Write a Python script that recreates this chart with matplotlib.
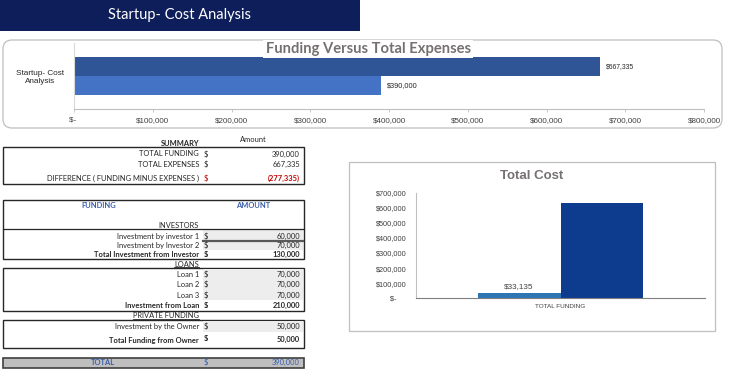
import matplotlib
matplotlib.use("Agg")
import matplotlib.pyplot as plt
from matplotlib.patches import Rectangle, FancyBboxPatch
from matplotlib.lines import Line2D
from matplotlib.transforms import Affine2D

# ---------------- data ----------------
page_title = "Startup- Cost Analysis"

top_chart_title = "Funding Versus Total Expenses"
top_category = "Startup- Cost\nAnalysis"
top_series = ["Total Expenses", "Total Funding"]
top_values = [667335, 390000]
top_ticks = [0, 100000, 200000, 300000, 400000, 500000, 600000, 700000, 800000]

summary_labels = ["TOTAL FUNDING", "TOTAL EXPENSES", "DIFFERENCE ( FUNDING MINUS EXPENSES )"]
summary_values = [390000, 667335, -277335]

investor_labels = ["Investment by investor 1", "Investment by Investor 2"]
investor_values = [60000, 70000]
investor_total_label = "Total Investment from Investor"
investor_total = 130000

loan_labels = ["Loan 1", "Loan 2", "Loan 3"]
loan_values = [70000, 70000, 70000]
loan_total_label = "Investment from Loan"
loan_total = 210000

owner_labels = ["Investment by the Owner"]
owner_values = [50000]
owner_total_label = "Total Funding from Owner"
owner_total = 50000

grand_total_label = "TOTAL"
grand_total = 390000

cost_title = "Total Cost"
cost_category = ["TOTAL FUNDING"]
cost_series_values = [33135, 634200]
cost_value_labels = ["$33,135", ""]
cost_ticks = [0, 100000, 200000, 300000, 400000, 500000, 600000, 700000]

# ---------------- helpers ----------------
W, H = 750, 377
fig = plt.figure(figsize=(W / 100, H / 100), dpi=100)
fig.patch.set_facecolor("white")
PX = Affine2D().scale(0.01, -0.01).translate(0, H / 100) + fig.dpi_scale_trans

TF = "Lato"          # table font (Calibri-like)
AF = "Liberation Sans"  # chart font (Arial-like)
DARK = "#262626"


def money(v):
    return "$-" if v == 0 else f"${v:,.0f}"


def acct(v):
    return f"{v:,.0f}" if v >= 0 else f"({-v:,.0f})"


def rect(x0, y0, x1, y1, **kw):
    r = Rectangle((x0, y0), x1 - x0, y1 - y0, transform=PX, **kw)
    fig.add_artist(r)
    return r


def hline(x0, x1, y, **kw):
    fig.add_artist(Line2D([x0, x1], [y, y], transform=PX, **kw))


def txt(x, y, s, **kw):
    kw.setdefault("va", "center")
    return fig.text(x, y, s, transform=PX, **kw)


def axes_px(x0, y0, x1, y1):
    return fig.add_axes([x0 / W, 1 - y1 / H, (x1 - x0) / W, (y1 - y0) / H])


# ---------------- banner ----------------
rect(0, 0, 360, 31, facecolor="#0E1E5B", edgecolor="none")
txt(180, 15.5, page_title, ha="center", color="white", fontsize=10.5, family=TF)

# ---------------- top chart ----------------
fig.add_artist(FancyBboxPatch((3, 40), 719, 88, boxstyle="round,pad=0,rounding_size=9",
                              transform=PX, facecolor="none", edgecolor="#BFBFBF", lw=0.9))
ax1 = axes_px(74, 43, 704, 109)
bar_h = 0.29
top_pos = [bar_h / 2, -bar_h / 2]
top_colors = ["#2F5597", "#4472C4"]
ax1.barh(top_pos, top_values, height=bar_h, color=top_colors)
for p, v, fs in zip(top_pos, top_values, [4.9, 5.3]):
    ax1.text(v + 8000, p, money(v), va="center", ha="left", fontsize=fs,
             family=AF, color="#262626")
ax1.set_xlim(top_ticks[0], top_ticks[-1])
ax1.set_ylim(-0.5, 0.5)
ax1.set_xticks(top_ticks)
ax1.set_xticklabels([money(t) if t else "$- " for t in top_ticks])
ax1.set_yticks([0])
ax1.set_yticklabels([top_category], multialignment="center")
ax1.tick_params(axis="x", labelsize=5.8, labelcolor="#404040", color="#BFBFBF",
                length=2.5, width=0.6, pad=3)
ax1.tick_params(axis="y", labelsize=5.9, labelcolor="#262626", length=0, pad=7)
for lab in ax1.get_xticklabels() + ax1.get_yticklabels():
    lab.set_family(AF)
for s in ["top", "right"]:
    ax1.spines[s].set_visible(False)
ax1.spines["left"].set_color("#D9D9D9")
ax1.spines["bottom"].set_color("#BFBFBF")
ax1.patch.set_alpha(0)
txt(368, 49, top_chart_title, ha="center", fontsize=10.6, fontweight="bold",
    color="#767171", family=TF,
    bbox=dict(facecolor="white", edgecolor="none", pad=1.5), zorder=5)

# ---------------- summary table ----------------
fs = 5.4
LX, DX, VX = 199, 204, 300
txt(LX, 144, "SUMMARY", ha="right", fontsize=fs, fontweight="bold", family=TF, color=DARK)
txt(253, 139.5, "Amount", ha="center", fontsize=fs, family=TF, color=DARK)
rect(3, 146.7, 303.5, 184, facecolor="none", edgecolor=DARK, lw=1.0)
for lbl, v, y in zip(summary_labels, summary_values, [154, 164.5, 178]):
    neg = v < 0
    col = "#C00000" if neg else DARK
    txt(LX, y, lbl, ha="right", fontsize=fs, family=TF, color=DARK)
    txt(DX, y, "$", ha="left", fontsize=fs, family=TF, color=col)
    txt(VX, y, acct(v), ha="right", fontsize=fs, family=TF, color=col,
        fontweight="bold" if neg else "normal")

# ---------------- funding table ----------------
BLUE = "#3B5EAB"
SHADE = "#EDEDED"
rect(3, 200, 303.5, 259.3, facecolor="none", edgecolor=DARK, lw=1.0)
hline(3, 303.5, 228.7, color=DARK, lw=0.9)
txt(99, 205, "FUNDING", ha="center", fontsize=fs, fontweight="bold", family=TF, color=BLUE)
txt(253, 205, "AMOUNT", ha="center", fontsize=fs, fontweight="bold", family=TF, color=BLUE)
txt(LX, 225.3, "INVESTORS", ha="right", fontsize=fs, family=TF, color=DARK)
rect(202.5, 229.2, 303, 250, facecolor=SHADE, edgecolor="none")
hline(202.5, 303, 240.7, color="#595959", lw=1.6)


def rows(labels, values, ys, bold=False):
    for lbl, v, y in zip(labels, values, ys):
        w = "bold" if bold else "normal"
        txt(LX, y, lbl, ha="right", fontsize=fs, family=TF, color=DARK, fontweight=w)
        txt(DX, y, "$", ha="left", fontsize=fs, family=TF, color=DARK, fontweight=w)
        txt(VX, y, acct(v), ha="right", fontsize=fs, family=TF, color=DARK, fontweight=w)


rows(investor_labels, investor_values, [236.2, 245.2])
rows([investor_total_label], [investor_total], [254.8], bold=True)

under = []
under.append((txt(LX, 264.5, "LOANS", ha="right", fontsize=fs, family=TF, color=DARK), 267.3))
rect(3, 268.3, 303.5, 311, facecolor="none", edgecolor=DARK, lw=1.0)
rect(202.5, 269, 303, 300.3, facecolor=SHADE, edgecolor="none")
rows(loan_labels, loan_values, [274.3, 284.7, 295.1])
rows([loan_total_label], [loan_total], [305.7], bold=True)

under.append((txt(LX, 315.8, "PRIVATE FUNDING", ha="right", fontsize=fs, family=TF, color=DARK), 318.6))
rect(3, 320, 303.5, 347.7, facecolor="none", edgecolor=DARK, lw=1.0)
rect(202.5, 320.7, 303, 331.5, facecolor=SHADE, edgecolor="none")
rows(owner_labels, owner_values, [326.3])
txt(LX, 340, owner_total_label, ha="right", fontsize=fs, family=TF, color=DARK, fontweight="bold")
txt(DX, 338.3, "$", ha="left", fontsize=fs, family=TF, color=DARK, fontweight="bold")
txt(VX, 339.5, acct(owner_total), ha="right", fontsize=fs, family=TF, color=DARK, fontweight="bold")

rect(3, 357.5, 303.5, 367.5, facecolor="#BFBFBF", edgecolor="#404040", lw=1.2)
txt(103, 362.5, grand_total_label, ha="center", fontsize=fs, family=TF, color=BLUE, fontweight="bold")
txt(DX, 362.5, "$", ha="left", fontsize=fs, family=TF, color=BLUE)
txt(VX, 362.5, acct(grand_total), ha="right", fontsize=fs, family=TF, color=BLUE)

# underlines sized to the text
fig.canvas.draw()
r = fig.canvas.get_renderer()
for t, yy in under:
    bb = t.get_window_extent(r)
    hline(bb.x0, bb.x1, yy, color=DARK, lw=0.6)

# ---------------- total cost chart ----------------
rect(349, 162, 715, 331, facecolor="none", edgecolor="#BFBFBF", lw=0.9)
txt(532, 176, cost_title, ha="center", fontsize=9.5, fontweight="bold", color="#767171", family=AF)
ax2 = axes_px(416, 192.7, 705, 298.3)
bw = 0.287
cost_pos = [-bw / 2, bw / 2]
cost_colors = ["#2E75B6", "#0D3B8E"]
bars = ax2.bar(cost_pos, cost_series_values, width=bw, color=cost_colors)
for b, lab in zip(bars, cost_value_labels):
    if lab:
        ax2.annotate(lab, (b.get_x() + b.get_width() / 2, b.get_height()),
                     xytext=(0, 2.5), textcoords="offset points", ha="center",
                     va="bottom", fontsize=5.9, family=AF, color="#404040")
ax2.set_xlim(-0.5, 0.5)
ax2.set_ylim(cost_ticks[0], cost_ticks[-1])
ax2.set_yticks(cost_ticks)
ax2.set_yticklabels([money(t) if t else "$-     " for t in cost_ticks])
ax2.set_xticks([0])
ax2.set_xticklabels(cost_category)
ax2.tick_params(axis="y", labelsize=5.3, labelcolor="#404040", length=0, pad=7)
ax2.tick_params(axis="x", labelsize=4.6, labelcolor="#404040", length=0, pad=4)
for lab in ax2.get_xticklabels() + ax2.get_yticklabels():
    lab.set_family(AF)
for s in ["top", "right"]:
    ax2.spines[s].set_visible(False)
ax2.spines["left"].set_color("#BFBFBF")
ax2.spines["bottom"].set_color("#7F7F7F")
ax2.patch.set_alpha(0)

fig.savefig("out.png", dpi=100)
